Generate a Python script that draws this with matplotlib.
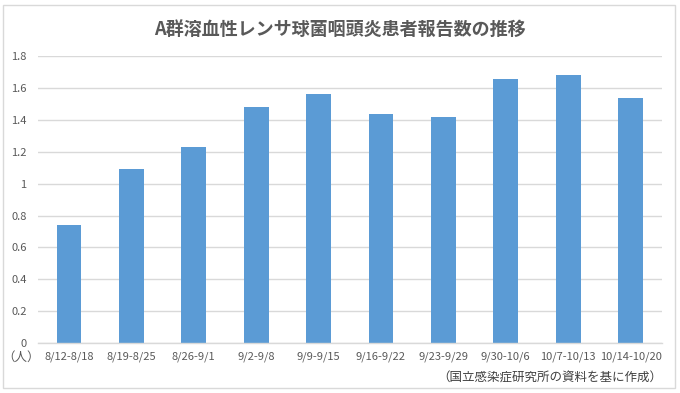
import matplotlib
matplotlib.use("Agg")
import matplotlib.pyplot as plt
from matplotlib.patches import Rectangle

plt.rcParams['font.family'] = ['Noto Sans CJK JP', 'DejaVu Sans']

weeks = ["8/12-8/18", "8/19-8/25", "8/26-9/1", "9/2-9/8", "9/9-9/15",
         "9/16-9/22", "9/23-9/29", "9/30-10/6", "10/7-10/13", "10/14-10/20"]
patients = [0.74, 1.09, 1.23, 1.48, 1.56, 1.44, 1.42, 1.66, 1.68, 1.54]
y_ticks = [0, 0.2, 0.4, 0.6, 0.8, 1, 1.2, 1.4, 1.6, 1.8]
y_labels = ["0", "0.2", "0.4", "0.6", "0.8", "1", "1.2", "1.4", "1.6", "1.8"]

text_color = "#595959"
grid_color = "#D9D9D9"


def main():
    fig = plt.figure(figsize=(6.8, 3.93), dpi=100)
    ax = fig.add_axes([0.0556, 0.127, 0.9176, 0.730])

    x = range(len(weeks))
    ax.bar(x, patients, width=0.4, color="#5B9BD5", zorder=3)

    ax.set_xlim(-0.5, len(weeks) - 0.5)
    ax.set_ylim(0, 1.8)
    ax.set_yticks(y_ticks)
    ax.set_yticklabels(y_labels)
    ax.set_xticks(list(x))
    ax.set_xticklabels(weeks)
    ax.tick_params(axis="both", length=0, labelsize=8, colors=text_color)
    ax.tick_params(axis="x", pad=6)
    ax.tick_params(axis="y", pad=8)

    ax.grid(axis="y", color=grid_color, linewidth=1, zorder=0)
    for side in ["top", "right", "left"]:
        ax.spines[side].set_visible(False)
    ax.spines["bottom"].set_color(grid_color)
    ax.spines["bottom"].set_linewidth(1)
    ax.spines["bottom"].set_zorder(4)

    fig.text(0.5, 0.925, "A群溶血性レンサ球菌咽頭炎患者報告数の推移",
             ha="center", va="center", fontsize=13, fontweight="bold",
             color=text_color)
    fig.text(0.031, 0.092, "（人）", ha="center", va="center",
             fontsize=9, color=text_color)
    fig.text(0.974, 0.038, "（国立感染症研究所の資料を基に作成）", ha="right",
             va="center", fontsize=9, color="#404040")

    fig.patches.append(Rectangle((0.005, 0.013), 0.988, 0.975,
                                 transform=fig.transFigure, fill=False,
                                 edgecolor="#D9D9D9", linewidth=1))

    fig.savefig("out.png", dpi=100)


if __name__ == "__main__":
    main()
